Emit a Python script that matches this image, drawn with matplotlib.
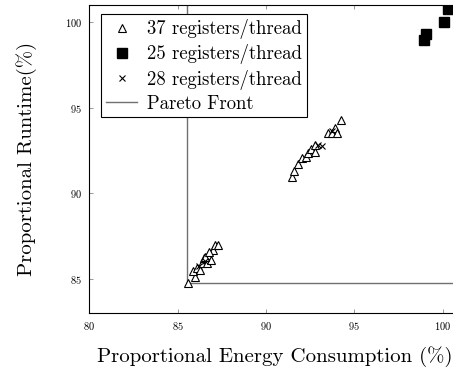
import matplotlib
matplotlib.use("Agg")
import matplotlib.pyplot as plt

plt.rcParams['font.family'] = ['cmr10', 'DejaVu Serif']
plt.rcParams['mathtext.fontset'] = 'cm'
plt.rcParams['axes.formatter.use_mathtext'] = True

# 37 registers/thread (triangles)
x37 = [85.57, 85.98, 85.85, 86.08, 86.27, 86.36, 86.49, 86.64, 86.74, 86.87, 86.98, 87.11, 87.30,
       86.55, 86.80,
       91.45, 91.59, 91.83, 92.02, 92.26, 92.39, 92.58, 92.77, 92.77, 93.53, 93.72, 93.91, 94.00, 94.23]
y37 = [84.80, 85.15, 85.50, 85.64, 85.54, 85.93, 86.22, 85.93, 86.41, 86.12, 86.71, 87.00, 87.00,
       86.30, 86.60,
       90.97, 91.32, 91.71, 92.04, 92.14, 92.33, 92.57, 92.43, 92.82, 93.50, 93.50, 93.79, 93.50, 94.27]
# 25 registers/thread (squares)
x25 = [98.94, 99.06, 100.09, 100.28]
y25 = [98.93, 99.28, 100.00, 100.73]
# 28 registers/thread (crosses)
x28 = [86.20, 86.55, 92.96, 93.15, 93.75]
y28 = [85.75, 86.05, 92.82, 92.78, 93.62]
# Pareto front
pareto_x = [85.55, 85.55, 101.0]
pareto_y = [101.0, 84.80, 84.80]

xticks = [80, 85, 90, 95, 100]
yticks = [85, 90, 95, 100]

fig = plt.figure(figsize=(4.53, 3.70), dpi=100)
ax = fig.add_axes([0.197, 0.153, 0.819, 0.833])

ax.plot(x37, y37, linestyle='none', marker='^', markersize=6, markerfacecolor='white',
        markeredgecolor='black', markeredgewidth=0.8, label='37 registers/thread', zorder=3)
ax.plot(x25, y25, linestyle='none', marker='s', markersize=6.5, color='black',
        label='25 registers/thread', zorder=3)
ax.plot(x28, y28, linestyle='none', marker='x', markersize=4, color='black', markeredgewidth=0.8,
        label='28 registers/thread', zorder=3)
ax.plot(pareto_x, pareto_y, color='#707070', linewidth=1.0, label='Pareto Front', zorder=2)

ax.set_xlim(80, 101)
ax.set_ylim(83.0, 100.97)
ax.set_xticks(xticks)
ax.set_yticks(yticks)
ax.tick_params(direction='in', top=True, right=True, length=3, width=0.6, color='#888888',
               labelsize=7.5, pad=5)
for s in ax.spines.values():
    s.set_linewidth(0.8)
    s.set_color('black')

ax.set_xlabel('Proportional Energy Consumption (%)', fontsize=15, labelpad=10)
ax.set_ylabel('Proportional Runtime(%)', fontsize=15, labelpad=20)

leg = ax.legend(loc='upper left', bbox_to_anchor=(0.0315, 0.97), borderaxespad=0,
                fancybox=False, edgecolor='black', framealpha=1, fontsize=13.5,
                handlelength=1.7, handletextpad=0.5, labelspacing=0.28, borderpad=0.25)
leg.get_frame().set_linewidth(0.8)

fig.savefig('out.png', dpi=100)
